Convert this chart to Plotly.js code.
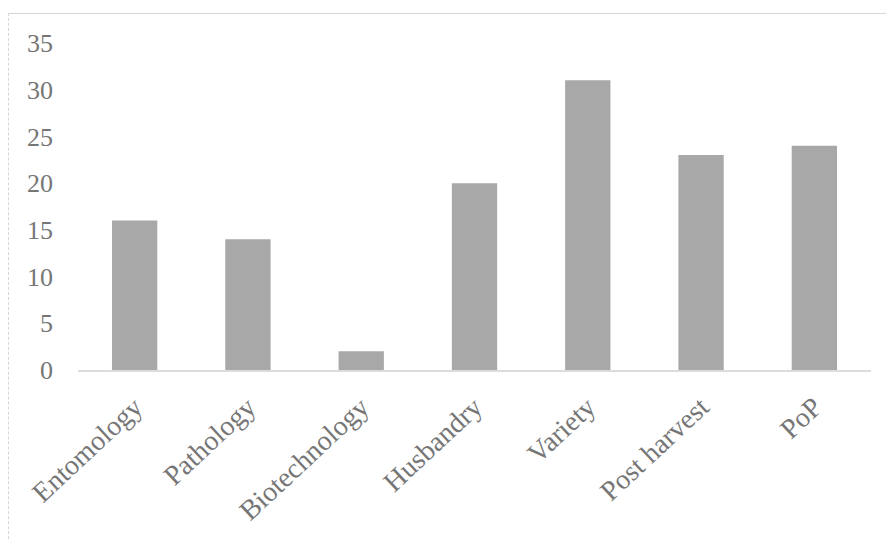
<!DOCTYPE html>
<html>
<head>
<meta charset="utf-8">
<script src="https://cdn.plot.ly/plotly-3.0.1.min.js"></script>
<style>
  html, body { margin: 0; padding: 0; background: #ffffff; }
  #wrap { position: relative; width: 886px; height: 541px; overflow: hidden; }
  #frame {
    position: absolute; left: 8px; top: 13px; width: 900px; height: 560px;
    border-top: 1.5px solid #d6d6d6; border-left: 1.5px dashed #d6d6d6;
    pointer-events: none;
  }
  #chart { position: absolute; left: 0; top: 0; width: 886px; height: 541px; }
</style>
</head>
<body>
<div id="wrap">
  <div id="chart"></div>
  <div id="frame"></div>
</div>
<script>
// Research areas and the number of studies in each
const categories = ["Entomology", "Pathology", "Biotechnology", "Husbandry", "Variety", "Post harvest", "PoP"];
const counts = [16, 14, 2, 20, 31, 23, 24];
const yTicks = [0, 5, 10, 15, 20, 25, 30, 35];

const serif = "Liberation Serif, Times New Roman, serif";
const yFont = { family: serif, size: 26, color: "#767676" };
const xFont = { family: serif, size: 28, color: "#767676" };

const trace = {
  type: "bar",
  x: categories,
  y: counts,
  marker: { color: "#a8a8a8", line: { width: 0 } },
  hoverinfo: "x+y"
};

const layout = {
  width: 886,
  height: 541,
  margin: { l: 78, r: 15, t: 43, b: 171, pad: 0 },
  paper_bgcolor: "rgba(0,0,0,0)",
  plot_bgcolor: "rgba(0,0,0,0)",
  bargap: 0.6,
  showlegend: false,
  font: yFont,
  xaxis: {
    type: "category",
    showgrid: false,
    showline: true,
    linecolor: "#d9dde0",
    linewidth: 1.5,
    ticks: "",
    tickangle: -43,
    ticklabelstandoff: 8,
    tickfont: xFont,
    automargin: false
  },
  yaxis: {
    range: [0, 35],
    tickvals: yTicks,
    ticktext: yTicks.map(String),
    showgrid: false,
    zeroline: false,
    showline: false,
    ticks: "",
    ticklabelstandoff: 24,
    tickfont: yFont,
    automargin: false
  }
};

Plotly.newPlot("chart", [trace], layout, { displayModeBar: false, staticPlot: true });
</script>
</body>
</html>
